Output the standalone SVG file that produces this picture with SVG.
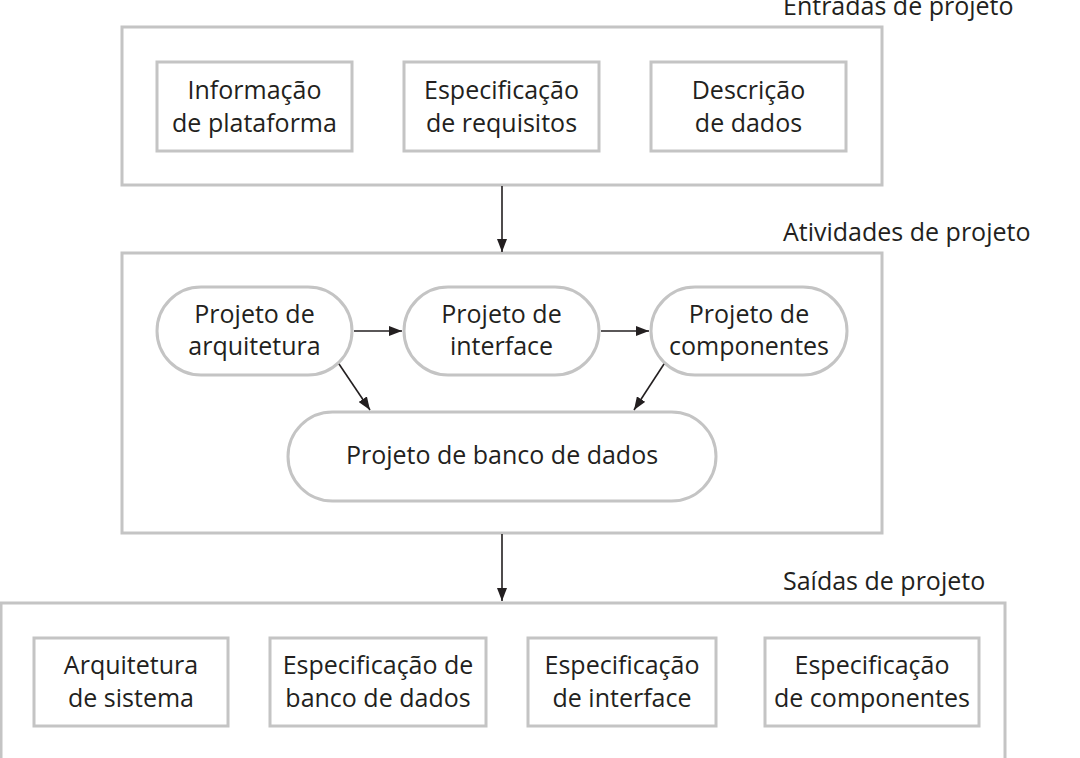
<svg xmlns="http://www.w3.org/2000/svg" width="1080" height="758" viewBox="0 0 1080 758">
<style>
.box{fill:#fff;stroke:#c4c4c4;stroke-width:3}
.t{font-family:"Open Sans","Liberation Sans",sans-serif;font-size:25px;fill:#231f20;text-anchor:middle}
.ttl{font-family:"Open Sans","Liberation Sans",sans-serif;font-size:25px;fill:#231f20}
.c{stroke:#231f20;stroke-width:1.6;fill:none;marker-end:url(#ah)}
</style>
<defs>
<marker id="ah" viewBox="0 0 13 10" refX="13" refY="5" markerWidth="13" markerHeight="10" markerUnits="userSpaceOnUse" orient="auto">
<path d="M0,0 L13,5 L0,10 Z" fill="#231f20"/>
</marker>
</defs>
<rect width="1080" height="758" fill="#fff"/>

<g id="entradas">
<rect class="box" x="122" y="27" width="760" height="158"/>
<text class="ttl" x="783" y="15">Entradas de projeto</text>
</g>
<g id="atividades">
<rect class="box" x="122" y="253" width="760" height="280"/>
<text class="ttl" x="783" y="241">Atividades de projeto</text>
</g>
<g id="saidas">
<rect class="box" x="1" y="603" width="1004" height="170"/>
<text class="ttl" x="783" y="590">Saídas de projeto</text>
</g>

<g id="info-plataforma">
<rect class="box" x="157" y="62" width="195" height="89"/>
<text class="t" x="254.5" y="99">Informação</text>
<text class="t" x="254.5" y="132">de plataforma</text>
</g>
<g id="espec-requisitos">
<rect class="box" x="404" y="62" width="195" height="89"/>
<text class="t" x="501.5" y="99">Especificação</text>
<text class="t" x="501.5" y="132">de requisitos</text>
</g>
<g id="descricao-dados">
<rect class="box" x="651" y="62" width="195" height="89"/>
<text class="t" x="748.5" y="99">Descrição</text>
<text class="t" x="748.5" y="132">de dados</text>
</g>

<g id="proj-arquitetura">
<rect class="box" x="157" y="287" width="195" height="88" rx="44" ry="44"/>
<text class="t" x="254.5" y="323">Projeto de</text>
<text class="t" x="254.5" y="355">arquitetura</text>
</g>
<g id="proj-interface">
<rect class="box" x="404" y="287" width="195" height="88" rx="44" ry="44"/>
<text class="t" x="501.5" y="323">Projeto de</text>
<text class="t" x="501.5" y="355">interface</text>
</g>
<g id="proj-componentes">
<rect class="box" x="651" y="287" width="196" height="88" rx="44" ry="44"/>
<text class="t" x="749" y="323">Projeto de</text>
<text class="t" x="749" y="355">componentes</text>
</g>
<g id="proj-banco">
<rect class="box" x="288" y="412" width="428" height="89" rx="44.5" ry="44.5"/>
<text class="t" x="502" y="464">Projeto de banco de dados</text>
</g>

<g id="arq-sistema">
<rect class="box" x="34" y="638" width="194" height="88"/>
<text class="t" x="131" y="674">Arquitetura</text>
<text class="t" x="131" y="707">de sistema</text>
</g>
<g id="espec-banco">
<rect class="box" x="270" y="638" width="216" height="88"/>
<text class="t" x="378" y="674">Especificação de</text>
<text class="t" x="378" y="707">banco de dados</text>
</g>
<g id="espec-interface">
<rect class="box" x="528" y="638" width="188" height="88"/>
<text class="t" x="622" y="674">Especificação</text>
<text class="t" x="622" y="707">de interface</text>
</g>
<g id="espec-componentes">
<rect class="box" x="765" y="638" width="214" height="88"/>
<text class="t" x="872" y="674">Especificação</text>
<text class="t" x="872" y="707">de componentes</text>
</g>

<g id="connectors">
<line class="c" x1="502" y1="186" x2="502" y2="252"/>
<line class="c" x1="354" y1="331" x2="402" y2="331"/>
<line class="c" x1="601" y1="331" x2="649" y2="331"/>
<line class="c" x1="339" y1="364" x2="370" y2="410"/>
<line class="c" x1="664" y1="364" x2="634" y2="410"/>
<line class="c" x1="502" y1="534" x2="502" y2="601"/>
</g>
</svg>
